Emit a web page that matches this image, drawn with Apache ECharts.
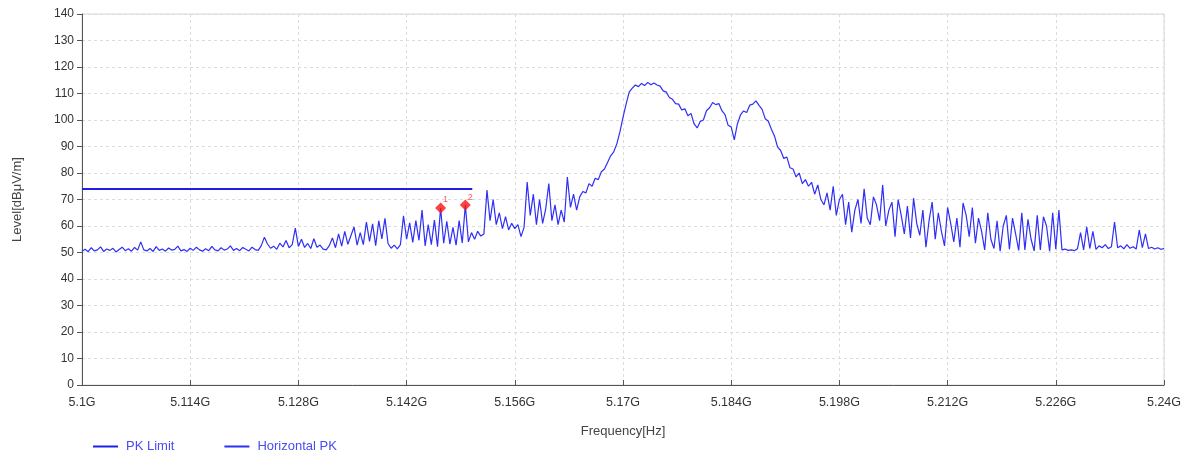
<!DOCTYPE html>
<html>
<head>
<meta charset="utf-8">
<title>Level vs Frequency</title>
<script src="https://cdn.jsdelivr.net/npm/echarts@6/dist/echarts.min.js"></script>
<style>
  html, body { margin: 0; padding: 0; background: #ffffff; }
  #chart { width: 1188px; height: 457px; }
</style>
</head>
<body>
<div id="chart"></div>
<script>
// Sweep grid of the horizontal peak trace
const sweepStartGHz = 5.1;
const sweepStepGHz = 0.0004;

// Horizontal PK level, dBuV/m, one value per sweep point (5.1 GHz .. 5.24 GHz)
const horizontalPK = [
  50.5, 51.2, 50.3, 51.8, 50.6, 51.0, 52.1, 50.4, 51.3, 50.8,
  51.6, 50.2, 51.1, 52.0, 50.7, 51.4, 50.5, 51.9, 50.9, 54.0,
  51.0, 50.6, 51.5, 50.4, 52.2, 50.8, 51.3, 50.5, 51.7, 50.9,
  51.2, 52.4, 50.6, 51.1, 50.4, 51.6, 50.8, 52.0, 51.0, 50.5,
  51.4, 50.7, 52.3, 51.0, 50.6, 51.8, 50.9, 51.3, 52.5, 50.8,
  51.5, 50.7, 51.9, 51.2, 50.6, 52.0, 51.1, 50.8, 52.6, 55.8,
  53.2, 51.6, 52.4, 51.2, 53.5, 52.1, 54.5, 51.8, 53.0, 59.2,
  52.3, 55.0, 51.9, 53.4, 51.5, 55.2, 52.0, 52.8, 51.3, 51.0,
  52.6, 55.5, 51.8, 57.0, 52.4, 58.0, 53.1, 56.4, 59.6, 52.8,
  57.5, 53.0, 61.5, 54.2, 60.8, 52.6, 62.0, 55.1, 62.9, 53.4,
  51.6, 52.8, 51.4, 53.0, 63.8, 55.0, 61.2, 53.8, 62.0, 54.6,
  66.0, 52.5, 60.5, 53.0, 62.2, 52.2, 66.8, 53.5, 61.8, 53.2,
  59.5, 52.8, 62.0, 53.6, 67.9, 54.0, 57.5, 55.0, 58.0, 56.2,
  57.0, 73.6, 62.0, 70.0, 60.5, 65.0, 59.0, 63.5, 58.5, 61.0,
  59.0, 60.5, 56.0, 59.5, 76.6, 64.0, 72.0, 60.5, 70.0, 61.0,
  66.5, 76.0, 62.0, 68.0, 60.5, 66.0, 61.5, 78.5, 67.0, 72.0,
  66.0, 71.0, 73.0, 72.5, 76.0, 75.0, 78.0, 77.5, 80.5, 81.5,
  84.0, 86.5, 88.0, 91.0, 95.5, 101.0, 106.0, 110.5, 112.0, 113.2,
  112.6, 113.8, 113.0, 114.2, 113.3, 114.0, 113.2, 112.8, 111.0, 110.5,
  108.5, 107.8, 106.2, 106.0, 103.8, 104.2, 101.6, 102.5, 98.5, 97.0,
  99.5, 100.0, 103.5, 104.6, 106.6, 105.8, 106.2, 103.5, 102.0, 98.0,
  97.4, 92.5, 98.5, 101.9, 103.4, 102.8, 105.6, 106.0, 107.2, 105.5,
  104.0, 100.5, 99.5, 96.5, 94.0, 89.8, 88.5, 85.5, 86.0, 82.0,
  81.5, 78.5, 80.0, 76.0, 77.5, 75.0, 76.5, 72.0, 75.5, 70.0,
  68.0, 72.5, 66.0, 75.0, 64.0, 70.0, 72.0, 60.5, 69.0, 57.7,
  66.0, 70.0, 61.0, 74.0, 63.0, 60.5, 71.0, 68.0, 62.0, 75.5,
  60.0, 66.0, 69.0, 56.0, 70.0, 64.0, 57.0, 67.5, 55.5, 70.5,
  61.0, 56.5, 66.0, 52.0, 62.0, 69.0, 55.0, 65.0, 58.0, 52.5,
  67.0, 61.0, 54.0, 63.0, 52.0, 68.7, 64.0, 56.0, 67.0, 53.5,
  63.0, 58.0, 51.0, 65.0, 55.0, 51.5, 62.0, 50.5, 60.0, 64.0,
  51.2, 63.0, 57.0, 50.8, 65.0, 51.0, 62.5, 55.0, 50.6, 64.0,
  51.0, 63.5, 60.0, 50.5, 65.0, 51.2, 66.0, 51.0, 51.3, 50.8,
  51.0, 50.7, 51.4, 57.5, 51.0, 59.7, 51.5, 58.0, 51.2, 52.5,
  51.8, 53.0, 51.5, 52.2, 61.5, 51.8, 52.5, 51.4, 53.0, 51.6,
  52.2, 51.3, 58.5, 51.8, 57.0, 51.5, 52.0, 51.3, 51.8, 51.2,
  51.5
];

// PK limit line
const limitFreqGHz = [5.1, 5.1505];
const limitLevel = [74, 74];

// Marked peaks
const markerNames = ['1', '2'];
const markerFreqGHz = [5.1464, 5.1496];
const markerLevel = [66.8, 67.9];

// Axis ticks
const freqTickLabels = ['5.1G', '5.114G', '5.128G', '5.142G', '5.156G', '5.17G',
                        '5.184G', '5.198G', '5.212G', '5.226G', '5.24G'];
const levelTicks = [0, 10, 20, 30, 40, 50, 60, 70, 80, 90, 100, 110, 120, 130, 140];

// Horizontal axis runs in MHz above the start frequency so ticks line up from 0
const toAxisMHz = f => (f - sweepStartGHz) * 1000;

const tracePoints = horizontalPK.map((v, i) => [toAxisMHz(sweepStartGHz + i * sweepStepGHz), v]);
const limitPoints = limitFreqGHz.map((f, i) => [toAxisMHz(f), limitLevel[i]]);
const markerPoints = markerFreqGHz.map((f, i) => ({ name: markerNames[i], value: [toAxisMHz(f), markerLevel[i]] }));

const FONT = 'Liberation Sans, Arial, sans-serif';
const chart = echarts.init(document.getElementById('chart'), null, { renderer: 'canvas' });

chart.setOption({
  animation: false,
  backgroundColor: '#ffffff',
  textStyle: { fontFamily: FONT },
  grid: {
    left: 82, right: 24, top: 14, bottom: 72,
    show: true, borderColor: '#d8d8d8', borderWidth: 1
  },
  legend: {
    left: 93, top: 440,
    padding: 0,
    itemWidth: 25, itemHeight: 2, itemGap: 50,
    icon: 'rect',
    textStyle: { color: '#4b4bf2', fontSize: 13, fontFamily: FONT, padding: [0, 0, 0, 3] },
    data: ['PK Limit', 'Horizontal PK']
  },
  xAxis: {
    type: 'value',
    min: 0, max: 140, interval: 14,
    name: 'Frequency[Hz]',
    nameLocation: 'middle',
    nameGap: 40,
    nameTextStyle: { color: '#444', fontSize: 13, fontFamily: FONT },
    axisLine: { show: true, lineStyle: { color: '#555', width: 1 } },
    axisTick: { show: true, length: 5, inside: true, lineStyle: { color: '#555' } },
    axisLabel: {
      color: '#333', fontSize: 12.5, fontFamily: FONT, margin: 11,
      formatter: v => freqTickLabels[Math.round(v / 14)]
    },
    splitLine: { show: true, lineStyle: { color: '#dcdcdc', type: [3, 3], width: 1 } }
  },
  yAxis: {
    type: 'value',
    min: levelTicks[0], max: levelTicks[levelTicks.length - 1], interval: 10,
    name: 'Level[dBμV/m]',
    nameLocation: 'middle',
    nameGap: 58,
    nameRotate: 90,
    nameTextStyle: { color: '#444', fontSize: 13, fontFamily: FONT },
    axisLine: { show: true, lineStyle: { color: '#555', width: 1 } },
    axisTick: { show: true, length: 5, lineStyle: { color: '#555' } },
    axisLabel: { color: '#333', fontSize: 12, fontFamily: FONT, margin: 8 },
    splitLine: { show: true, lineStyle: { color: '#dcdcdc', type: [3, 3], width: 1 } }
  },
  series: [
    {
      name: 'PK Limit',
      type: 'line',
      data: limitPoints,
      showSymbol: false,
      symbol: 'none',
      color: '#1f1fe8',
      lineStyle: { color: '#1f1fe8', width: 2 },
      z: 3
    },
    {
      name: 'Horizontal PK',
      type: 'line',
      data: tracePoints,
      showSymbol: false,
      symbol: 'none',
      color: '#2f2ff5',
      lineStyle: { color: '#2f2ff5', width: 1.2 },
      z: 2
    },
    {
      name: 'Markers',
      type: 'scatter',
      data: markerPoints,
      symbol: 'diamond',
      symbolSize: 11,
      itemStyle: { color: '#ff1010' },
      label: {
        show: true,
        position: [8, -7],
        formatter: p => p.name,
        color: '#ff3030',
        fontSize: 9,
        fontFamily: FONT
      },
      z: 4
    }
  ]
});
</script>
</body>
</html>
